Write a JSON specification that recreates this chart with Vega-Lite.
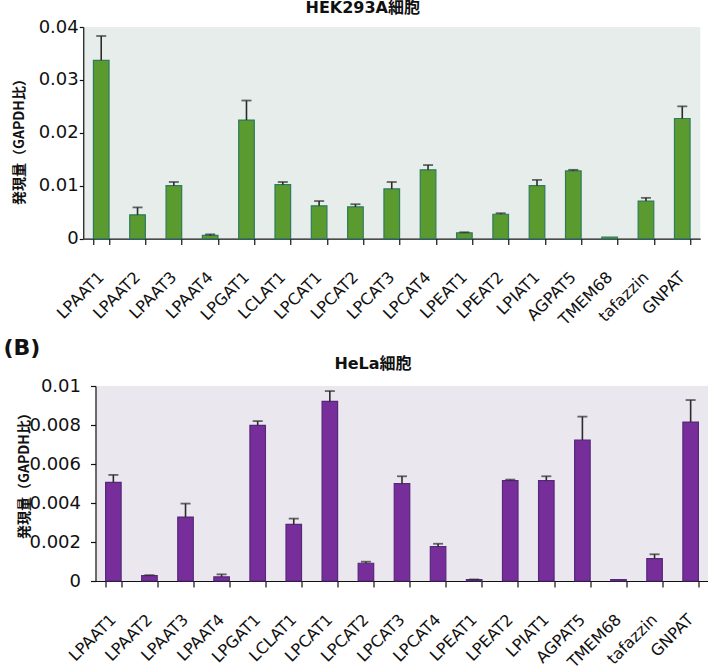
{
  "$schema": "https://vega.github.io/schema/vega-lite/v6.json",
  "background": "white",
  "padding": {"left": 3, "top": -24, "right": 0, "bottom": 0},
  "columns": 1,
  "center": true,
  "spacing": 9,
  "config": {
    "view": {"stroke": null},
    "font": "DejaVu Sans",
    "axis": {
      "domainColor": "#111",
      "tickColor": "#111",
      "labelColor": "#111",
      "titleColor": "#111",
      "grid": false
    },
    "title": {"color": "#111"}
  },
  "datasets": {
    "hek": [
      {"gene": "LPAAT1", "value": 0.0337, "upper": 0.0383},
      {"gene": "LPAAT2", "value": 0.0045, "upper": 0.0059},
      {"gene": "LPAAT3", "value": 0.0100, "upper": 0.0107},
      {"gene": "LPAAT4", "value": 0.0006, "upper": 0.0008},
      {"gene": "LPGAT1", "value": 0.0224, "upper": 0.0261},
      {"gene": "LCLAT1", "value": 0.0102, "upper": 0.0107},
      {"gene": "LPCAT1", "value": 0.0062, "upper": 0.0071},
      {"gene": "LPCAT2", "value": 0.0060, "upper": 0.0065},
      {"gene": "LPCAT3", "value": 0.0094, "upper": 0.0107},
      {"gene": "LPCAT4", "value": 0.0130, "upper": 0.0139},
      {"gene": "LPEAT1", "value": 0.0011, "upper": 0.0012},
      {"gene": "LPEAT2", "value": 0.0046, "upper": 0.0048},
      {"gene": "LPIAT1", "value": 0.0100, "upper": 0.0111},
      {"gene": "AGPAT5", "value": 0.0128, "upper": 0.0130},
      {"gene": "TMEM68", "value": 0.0003, "upper": null},
      {"gene": "tafazzin", "value": 0.0071, "upper": 0.0077},
      {"gene": "GNPAT", "value": 0.0227, "upper": 0.0250}
    ],
    "hela": [
      {"gene": "LPAAT1", "value": 0.00506, "upper": 0.00544},
      {"gene": "LPAAT2", "value": 0.00028, "upper": 0.00030},
      {"gene": "LPAAT3", "value": 0.00328, "upper": 0.00397},
      {"gene": "LPAAT4", "value": 0.00021, "upper": 0.00034},
      {"gene": "LPGAT1", "value": 0.00798, "upper": 0.00820},
      {"gene": "LCLAT1", "value": 0.00290, "upper": 0.00320},
      {"gene": "LPCAT1", "value": 0.00921, "upper": 0.00974},
      {"gene": "LPCAT2", "value": 0.00091, "upper": 0.00099},
      {"gene": "LPCAT3", "value": 0.00499, "upper": 0.00537},
      {"gene": "LPCAT4", "value": 0.00176, "upper": 0.00191},
      {"gene": "LPEAT1", "value": 0.00007, "upper": 0.00008},
      {"gene": "LPEAT2", "value": 0.00515, "upper": 0.00520},
      {"gene": "LPIAT1", "value": 0.00515, "upper": 0.00537},
      {"gene": "AGPAT5", "value": 0.00723, "upper": 0.00843},
      {"gene": "TMEM68", "value": 0.00007, "upper": null},
      {"gene": "tafazzin", "value": 0.00115, "upper": 0.00137},
      {"gene": "GNPAT", "value": 0.00815, "upper": 0.00928}
    ]
  },
  "concat": [
    {
      "data": {"name": "hek"},
      "width": 617,
      "height": 211.6,
      "view": {"fill": "#e6edea", "stroke": null},
      "title": {"text": "(A)", "anchor": "start", "frame": "group", "dx": -80, "fontSize": 22, "fontWeight": "bold", "font": "DejaVu Sans", "offset": 0},
      "layer": [
        {
          "mark": {"type": "bar", "fill": "#5a9a2e", "stroke": "#2f7b5e", "strokeWidth": 1.2},
          "encoding": {
            "x": {"field": "gene", "type": "nominal", "sort": null,
                  "scale": {"paddingInner": 0.57, "paddingOuter": 0.28},
                  "axis": {"orient": "bottom", "title": null, "tickBand": "extent", "tickSize": 6, "domainWidth": 1.2, "tickWidth": 1.2,
                           "labelAngle": -45, "labelFontSize": 16, "labelFont": "DejaVu Sans", "labelPadding": 24, "labelOffset": -6}},
            "y": {"field": "value", "type": "quantitative",
                  "scale": {"domain": [0, 0.04], "nice": false},
                  "axis": {"values": [0, 0.01, 0.02, 0.03, 0.04], "format": "~g", "tickSize": 4, "labelPadding": 1,
                           "labelFontSize": 18, "labelFont": "DejaVu Sans", "domainWidth": 1.2, "tickWidth": 1.2,
                           "title": "発現量（GAPDH比）", "titleFont": "Noto Sans CJK JP", "titleFontSize": 14, "titleFontWeight": "bold",
                           "titleX": -64, "titleY": 111, "titleBaseline": "middle", "titleAlign": "center"}}
          }
        },
        {
          "transform": [{"filter": "datum.upper != null"}],
          "mark": {"type": "rule", "color": "#2b2b2b", "strokeWidth": 1.6},
          "encoding": {
            "x": {"field": "gene", "type": "nominal", "sort": null, "axis": null},
            "y": {"field": "value", "type": "quantitative",
                  "axis": {"orient": "right", "title": null, "labels": false, "domain": false, "tickSize": 20, "tickColor": "transparent", "values": [0]}},
            "y2": {"field": "upper"}
          }
        },
        {
          "transform": [{"filter": "datum.upper != null"}],
          "mark": {"type": "tick", "color": "#2b2b2b", "thickness": 1.8, "size": 10},
          "encoding": {
            "x": {"field": "gene", "type": "nominal", "sort": null,
                  "axis": {"orient": "top", "title": "HEK293A細胞", "labels": false, "ticks": false, "domain": false,
                           "titleFont": "DejaVu Sans, Noto Sans CJK JP", "titleFontSize": 16, "titleFontWeight": "bold",
                           "titleX": 279, "titleAlign": "center", "titleBaseline": "alphabetic", "titlePadding": 14.7}},
            "y": {"field": "upper", "type": "quantitative", "axis": null}
          }
        }
      ],
      "resolve": {"axis": {"x": "independent", "y": "independent"}}
    },
    {
      "data": {"name": "hela"},
      "width": 613,
      "height": 195,
      "view": {"fill": "#ebe7ef", "stroke": null},
      "title": {"text": "(B)", "anchor": "start", "frame": "group", "dx": -92, "fontSize": 22, "fontWeight": "bold", "font": "DejaVu Sans", "offset": -5},
      "layer": [
        {
          "mark": {"type": "bar", "fill": "#782e9a", "stroke": "#55287a", "strokeWidth": 1.2},
          "encoding": {
            "x": {"field": "gene", "type": "nominal", "sort": null,
                  "scale": {"paddingInner": 0.57, "paddingOuter": 0.28},
                  "axis": {"orient": "bottom", "title": null, "tickBand": "extent", "tickSize": 6, "domainWidth": 1.2, "tickWidth": 1.2,
                           "labelAngle": -45, "labelFontSize": 16, "labelFont": "DejaVu Sans", "labelPadding": 24, "labelOffset": -6}},
            "y": {"field": "value", "type": "quantitative",
                  "scale": {"domain": [0, 0.01], "nice": false},
                  "axis": {"values": [0, 0.002, 0.004, 0.006, 0.008, 0.01], "format": "~g", "tickSize": 5, "labelPadding": 10,
                           "labelFontSize": 18, "labelFont": "DejaVu Sans", "domainWidth": 1.2, "tickWidth": 1.2,
                           "title": "発現量（GAPDH比）", "titleFont": "Noto Sans CJK JP", "titleFontSize": 14, "titleFontWeight": "bold",
                           "titleX": -71, "titleY": 86, "titleBaseline": "middle", "titleAlign": "center"}}
          }
        },
        {
          "transform": [{"filter": "datum.upper != null"}],
          "mark": {"type": "rule", "color": "#2b2b2b", "strokeWidth": 1.6},
          "encoding": {
            "x": {"field": "gene", "type": "nominal", "sort": null, "axis": null},
            "y": {"field": "value", "type": "quantitative", "axis": null},
            "y2": {"field": "upper"}
          }
        },
        {
          "transform": [{"filter": "datum.upper != null"}],
          "mark": {"type": "tick", "color": "#2b2b2b", "thickness": 1.8, "size": 10},
          "encoding": {
            "x": {"field": "gene", "type": "nominal", "sort": null,
                  "axis": {"orient": "top", "title": "HeLa細胞", "labels": false, "ticks": false, "domain": false,
                           "titleFont": "DejaVu Sans, Noto Sans CJK JP", "titleFontSize": 16, "titleFontWeight": "bold",
                           "titleX": 277, "titleAlign": "center", "titleBaseline": "alphabetic", "titlePadding": 18}},
            "y": {"field": "upper", "type": "quantitative", "axis": null}
          }
        }
      ],
      "resolve": {"axis": {"x": "independent", "y": "independent"}}
    }
  ]
}
